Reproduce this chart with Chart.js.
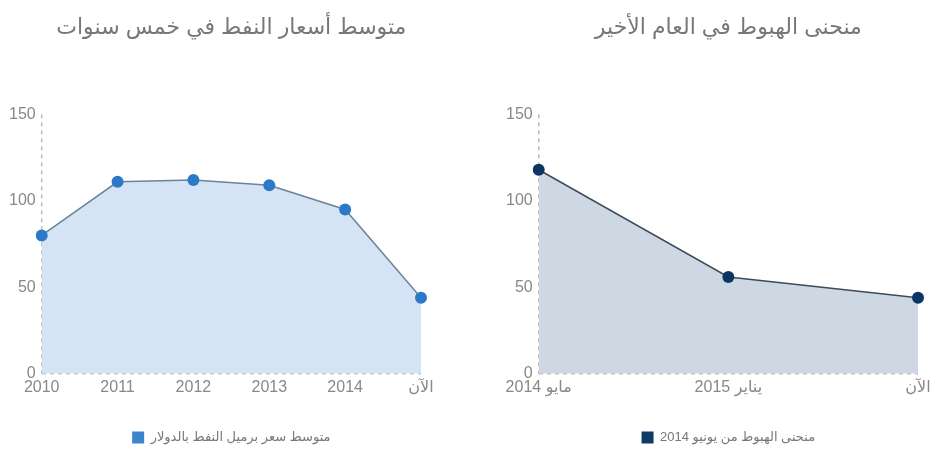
<!DOCTYPE html>
<html>
<head>
<meta charset="utf-8">
<script src="https://cdn.jsdelivr.net/npm/chart.js@4"></script>
<style>
  body { margin: 0; background: #fff; }
  .box { position: absolute; top: 0; width: 475px; height: 460px; }
  #leftBox { left: 0; }
  #rightBox { left: 475px; }
</style>
</head>
<body>
<div class="box" id="leftBox"><canvas id="avgChart" dir="rtl"></canvas></div>
<div class="box" id="rightBox"><canvas id="dropChart" dir="rtl"></canvas></div>
<script>
// five-year average
const avgLabels = ['2010', '2011', '2012', '2013', '2014', 'الآن'];
const avgValues = [80, 111, 112, 109, 95, 44];

// drop since June 2014
const dropLabels = ['مايو 2014', 'يناير 2015', 'الآن'];
const dropValues = [118, 56, 44];

const yTicks = [0, 50, 100, 150];

const FONT = "Arial, 'Liberation Sans', 'DejaVu Sans', sans-serif";
const AXIS_GREY = '#bdbdbd';

function makeChart(id, labels, values, opts) {
    const ctx = document.getElementById(id).getContext('2d');
    return new Chart(ctx, {
        type: 'line',
        data: {
            labels,
            datasets: [{
                label: opts.legend,
                data: values,
                borderColor: opts.line,
                backgroundColor: opts.fill,
                fill: 'origin',
                borderWidth: 1.5,
                tension: 0,
                pointRadius: 6,
                pointHoverRadius: 6,
                pointBackgroundColor: opts.point,
                pointBorderColor: opts.point,
                pointBorderWidth: 0,
            }],
        },
        options: {
            responsive: true,
            maintainAspectRatio: false,
            animation: false,
            layout: { padding: opts.padding },
            plugins: {
                title: {
                    display: true,
                    fullSize: false,
                    text: opts.title,
                    color: '#777',
                    font: { family: FONT, size: 22, weight: 'normal' },
                    padding: { top: 15, bottom: 73 },
                },
                legend: {
                    position: 'bottom',
                    fullSize: false,
                    labels: {
                        color: '#777',
                        font: { family: FONT, size: 13 },
                        boxWidth: 12,
                        boxHeight: 12,
                        padding: 14,
                        generateLabels: () => [{
                            text: opts.legend,
                            fillStyle: opts.box,
                            strokeStyle: opts.box,
                            fontColor: '#777',
                            lineWidth: 0,
                            datasetIndex: 0,
                        }],
                    },
                },
                tooltip: { enabled: false },
            },
            scales: {
                x: {
                    offset: false,
                    afterFit: (axis) => { axis.height += 16; },
                    grid: {
                        drawTicks: false,
                        lineWidth: 1.5,
                        color: (c) => c.index === 0 ? AXIS_GREY : 'rgba(0,0,0,0)',
                    },
                    border: { display: false, dash: [4, 4] },
                    ticks: {
                        color: '#888',
                        padding: 4,
                        maxRotation: 0,
                        autoSkip: false,
                        font: { family: FONT, size: 16 },
                    },
                },
                y: {
                    min: 0,
                    max: 150,
                    afterBuildTicks: (axis) => { axis.ticks = yTicks.map(v => ({ value: v })); },
                    grid: {
                        drawTicks: false,
                        lineWidth: 1.5,
                        color: (c) => c.tick && c.tick.value === 0 ? AXIS_GREY : 'rgba(0,0,0,0)',
                    },
                    border: { display: false, dash: [4, 4] },
                    ticks: {
                        color: '#888',
                        padding: 6,
                        font: { family: FONT, size: 16 },
                    },
                },
            },
        },
    });
}

makeChart('avgChart', avgLabels, avgValues, {
    title: 'متوسط أسعار النفط في خمس سنوات',
    legend: 'متوسط سعر برميل النفط بالدولار',
    line: '#6d8398',
    fill: '#d5e4f4',
    point: '#2b79c7',
    box: '#3a85cc',
    padding: { left: 3, right: 54, top: 0, bottom: 6 },
});

makeChart('dropChart', dropLabels, dropValues, {
    title: 'منحنى الهبوط في العام الأخير',
    legend: 'منحنى الهبوط من يونيو 2014',
    line: '#3d4b5a',
    fill: '#cdd8e3',
    point: '#0c3564',
    box: '#0d3a66',
    padding: { left: 25, right: 32, top: 0, bottom: 6 },
});
</script>
</body>
</html>
